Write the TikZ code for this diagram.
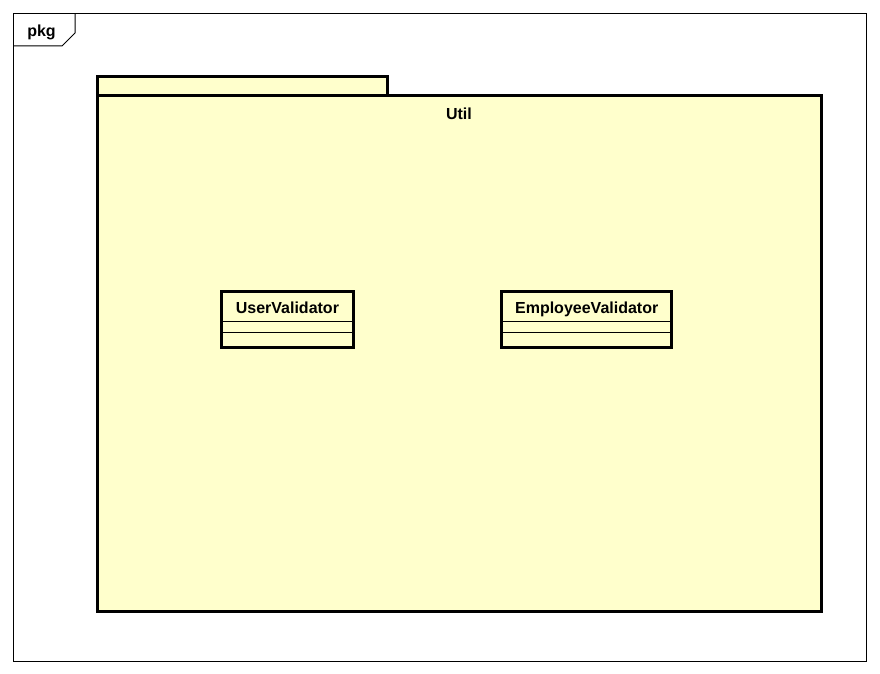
\documentclass[tikz,border=0pt]{standalone}
\usepackage{fontspec}
\setmainfont{Liberation Sans}
\definecolor{pkgfill}{HTML}{FFFFCC}
\tikzset{
  lbl/.style={font=\bfseries\fontsize{16}{19}\selectfont, inner sep=0pt, anchor=base},
  thick3/.style={line width=3pt, draw=black},
  thin1/.style={line width=1pt, draw=black},
}
\begin{document}
\begin{tikzpicture}[x=1pt,y=-1pt]
\useasboundingbox (0,0) rectangle (880,674);
% outer frame
\draw[thin1] (13.5,13.5) rectangle (866,661);
\draw[thin1] (13.5,46) -- (62,46) -- (75,33) -- (75,13.5);
\node[lbl] (pkg) at (41.5,37) {pkg};
% package
\filldraw[thick3, fill=pkgfill] (97.5,76.5) rectangle (387,96);
\filldraw[thick3, fill=pkgfill] (97.5,96) rectangle (821.5,611.5);
\node[lbl] (util) at (459,119.5) {Util};
% UserValidator
\filldraw[thick3, fill=pkgfill] (221.5,291) rectangle (353.3,347);
\draw[thin1] (221.5,321.7) -- (353.3,321.7);
\draw[thin1] (221.5,332.3) -- (353.3,332.3);
\node[lbl] (uv) at (287.4,313) {UserValidator};
% EmployeeValidator
\filldraw[thick3, fill=pkgfill] (501.7,291) rectangle (671.7,347);
\draw[thin1] (501.7,321.7) -- (671.7,321.7);
\draw[thin1] (501.7,332.3) -- (671.7,332.3);
\node[lbl] (ev) at (586.7,313) {EmployeeValidator};
\end{tikzpicture}
\end{document}
